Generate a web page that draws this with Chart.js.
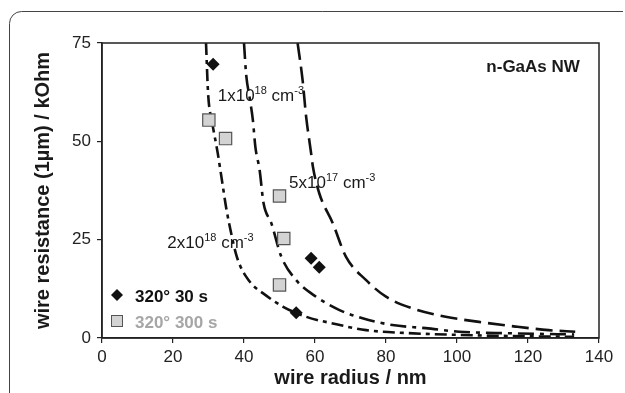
<!DOCTYPE html>
<html>
<head>
<meta charset="utf-8">
<script src="https://cdn.jsdelivr.net/npm/chart.js@4/dist/chart.umd.min.js"></script>
<style>
  html, body { margin: 0; padding: 0; background: #fff; }
  #wrap { width: 625px; height: 393px; }
</style>
</head>
<body>
<div id="wrap"><canvas id="nw_chart" width="625" height="393"></canvas></div>
<script>
// axis ticks
const xTicks = [0, 20, 40, 60, 80, 100, 120, 140];
const yTicks = [0, 25, 50, 75];

// model curves (radius nm, resistance kOhm)
const n2e18X = [29.3, 29.9, 31.0, 32.6, 33.8, 35.0, 36.3, 37.8, 39.0, 40.6, 42.5, 45.3, 50.9, 57.5, 65.0, 74.4, 85.0, 100.0, 115.0, 133.0];
const n2e18Y = [75, 62, 55, 47, 40, 33, 27, 21.2, 18.2, 15.6, 13.4, 11.4, 8.0, 5.4, 3.7, 2.0, 1.3, 0.8, 0.5, 0.3];

const n1e18X = [40.0, 40.6, 41.6, 42.5, 43.2, 44.4, 45.5, 47.7, 50.5, 54.7, 60.3, 66.9, 73.4, 81.8, 91.2, 100.6, 115.0, 133.0];
const n1e18Y = [75, 67, 61, 55.4, 48.6, 42.7, 34.3, 29.2, 20.7, 14.7, 10.5, 7.1, 5.0, 3.3, 2.5, 1.6, 1.2, 0.9];

const n5e17X = [55.1, 56.5, 57.5, 58.9, 59.4, 61.2, 65.0, 68.7, 74.4, 80.0, 87.5, 96.8, 106.2, 116.5, 125.8, 133.3];
const n5e17Y = [75, 65.6, 56.3, 47, 43.6, 36.8, 29.2, 20.7, 14.7, 10.5, 7.5, 5.4, 4.1, 2.9, 2.0, 1.6];

// measured wires
const anneal30sX = [31.3, 54.7, 58.9, 61.2];
const anneal30sY = [69.6, 6.4, 20.3, 18.0];
const anneal300sX = [30.1, 34.8, 50.0, 51.2, 50.0];
const anneal300sY = [55.4, 50.7, 36.1, 25.3, 13.5];

const toPts = (xs, ys) => xs.map((x, i) => ({ x: x, y: ys[i] }));

const FONT = "'Liberation Sans', Arial, sans-serif";

// draws text with superscript parts, left aligned at (x, baseline y)
function supText(ctx, x, y, parts) {
    parts.forEach(function(p) {
        ctx.font = p[1] ? "11px " + FONT : "17px " + FONT;
        const dy = p[1] ? -7 : 0;
        ctx.fillText(p[0], x, y + dy);
        x += ctx.measureText(p[0]).width;
    });
}

const decor = {
    id: 'decor',
    beforeDraw(chart) {
        const ctx = chart.ctx;
        ctx.save();
        ctx.fillStyle = '#fff';
        ctx.fillRect(0, 0, chart.width, chart.height);
        // outer rounded frame
        ctx.strokeStyle = '#444';
        ctx.lineWidth = 1;
        ctx.beginPath();
        ctx.moveTo(9.5, 400);
        ctx.lineTo(9.5, 24);
        ctx.arcTo(9.5, 11.5, 22, 11.5, 12);
        ctx.lineTo(623, 11.5);
        ctx.stroke();
        ctx.restore();
    },
    afterDraw(chart) {
        const ctx = chart.ctx;
        const a = chart.chartArea;
        const xs = chart.scales.x, ys = chart.scales.y;
        ctx.save();
        ctx.strokeStyle = '#222';
        ctx.lineWidth = 1.5;
        ctx.strokeRect(a.left, a.top, a.right - a.left, a.bottom - a.top);

        ctx.fillStyle = '#1a1a1a';
        ctx.textBaseline = 'alphabetic';
        ctx.textAlign = 'left';
        supText(ctx, xs.getPixelForValue(32.6), ys.getPixelForValue(60.3),
            [['1x10', false], ['18', true], [' cm', false], ['-3', true]]);
        supText(ctx, xs.getPixelForValue(52.7), ys.getPixelForValue(38.1),
            [['5x10', false], ['17', true], [' cm', false], ['-3', true]]);
        supText(ctx, xs.getPixelForValue(18.4), ys.getPixelForValue(23.0),
            [['2x10', false], ['18', true], [' cm', false], ['-3', true]]);

        ctx.font = "bold 17px " + FONT;
        ctx.textAlign = 'right';
        ctx.fillText('n-GaAs NW', xs.getPixelForValue(134.6), ys.getPixelForValue(67.6));

        // legend
        ctx.textAlign = 'left';
        const lx = a.left + 15;
        ctx.fillStyle = '#111';
        ctx.beginPath();
        ctx.moveTo(lx - 6, 295); ctx.lineTo(lx, 289); ctx.lineTo(lx + 6, 295); ctx.lineTo(lx, 301);
        ctx.closePath();
        ctx.fill();
        ctx.fillText('320° 30 s', lx + 18, 302);
        ctx.fillStyle = '#d3d3d3';
        ctx.fillRect(lx - 6, 315, 12, 12);
        ctx.strokeStyle = '#555';
        ctx.lineWidth = 1;
        ctx.strokeRect(lx - 5.5, 315.5, 11, 11);
        ctx.fillStyle = '#a6a6a6';
        ctx.fillText('320° 300 s', lx + 18, 328);
        ctx.restore();
    }
};

const curve = (pts, dash) => ({
    data: pts,
    showLine: true,
    pointRadius: 0,
    borderColor: '#111',
    borderWidth: 2.6,
    borderDash: dash,
    cubicInterpolationMode: 'monotone',
    order: 2
});

const ctx = document.getElementById('nw_chart');
const nw_chart = new Chart(ctx, {
    type: 'scatter',
    data: {
        datasets: [
            {
                label: '320° 30 s',
                data: toPts(anneal30sX, anneal30sY),
                pointStyle: 'rectRot',
                pointRadius: 6.5,
                backgroundColor: '#111',
                borderWidth: 0,
                order: 0
            },
            {
                label: '320° 300 s',
                data: toPts(anneal300sX, anneal300sY),
                pointStyle: 'rect',
                pointRadius: 8.7,
                backgroundColor: '#d3d3d3',
                borderColor: '#555',
                borderWidth: 1.2,
                order: 1
            },
            curve(toPts(n2e18X, n2e18Y), [12, 5, 4, 5]),
            curve(toPts(n1e18X, n1e18Y), [16, 6, 4, 6]),
            curve(toPts(n5e17X, n5e17Y), [17, 7])
        ]
    },
    options: {
        responsive: false,
        animation: false,
        layout: { padding: { top: 43, right: 26, left: 0, bottom: 0 } },
        plugins: {
            legend: { display: false },
            tooltip: { enabled: false }
        },
        scales: {
            x: {
                type: 'linear',
                min: 0,
                max: 140,
                afterBuildTicks: (s) => { s.ticks = xTicks.map(v => ({ value: v })); },
                afterFit: (s) => { s.height = 55; },
                grid: { drawOnChartArea: false, tickLength: 5, color: '#222', lineWidth: 1.2 },
                border: { color: '#222', width: 1.5 },
                ticks: { color: '#222', font: { family: FONT, size: 17 }, padding: 4 },
                title: {
                    display: true,
                    text: 'wire radius / nm',
                    color: '#1a1a1a',
                    font: { family: FONT, size: 20, weight: 'bold' },
                    padding: { top: 0, bottom: 3 }
                }
            },
            y: {
                type: 'linear',
                min: 0,
                max: 75,
                afterBuildTicks: (s) => { s.ticks = yTicks.map(v => ({ value: v })); },
                afterFit: (s) => { s.width = 102; },
                grid: { drawOnChartArea: false, tickLength: 5, color: '#222', lineWidth: 1.2 },
                border: { color: '#222', width: 1.5 },
                ticks: { color: '#222', font: { family: FONT, size: 17 }, padding: 6 },
                title: {
                    display: true,
                    text: 'wire resistance (1µm) / kOhm',
                    color: '#1a1a1a',
                    font: { family: FONT, size: 20, weight: 'bold' },
                    padding: { top: 31, bottom: 0 }
                }
            }
        }
    },
    plugins: [decor]
});
</script>
</body>
</html>
